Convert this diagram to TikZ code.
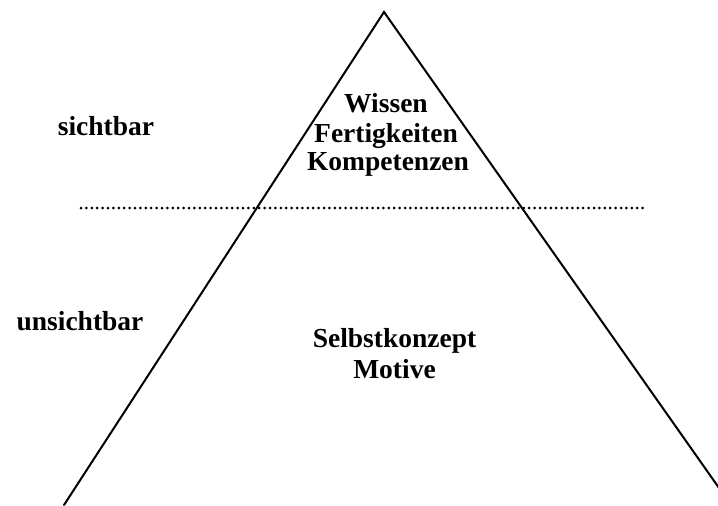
\documentclass[tikz,border=0pt]{standalone}
\usepackage{fontspec}
\setmainfont{Liberation Serif}
\begin{document}
\begin{tikzpicture}[x=1pt,y=-1pt,
  label/.style={inner sep=0pt,anchor=base,font=\fontsize{27.5}{29}\selectfont\bfseries},
  edge/.style={line width=2pt,line cap=round},
  waterline/.style={line width=3pt,line cap=round,dash pattern=on 0pt off 5.4pt}]
  \useasboundingbox (0,0) rectangle (718,506);
  \clip (0,0) rectangle (718,506);

  % iceberg outline
  \coordinate (apex) at (384,12);
  \coordinate (baseL) at (64,505);
  \coordinate (baseR) at (731,505);
  \draw[edge] (baseL) -- (apex) -- (baseR);

  % water surface
  \coordinate (waterL) at (81,208);
  \coordinate (waterR) at (643,208);
  \draw[waterline] (waterL) -- (waterR);

  % side labels
  \node[label] (visible) at (106,135) {sichtbar};
  \node[label] (hidden) at (80,330) {unsichtbar};

  % contents above the surface
  \node[label] (tip1) at (386,112) {Wissen};
  \node[label] (tip2) at (386,142) {Fertigkeiten};
  \node[label] (tip3) at (388,170) {Kompetenzen};

  % contents below the surface
  \node[label] (deep1) at (394.5,347) {Selbstkonzept};
  \node[label] (deep2) at (394.5,378) {Motive};
\end{tikzpicture}
\end{document}
